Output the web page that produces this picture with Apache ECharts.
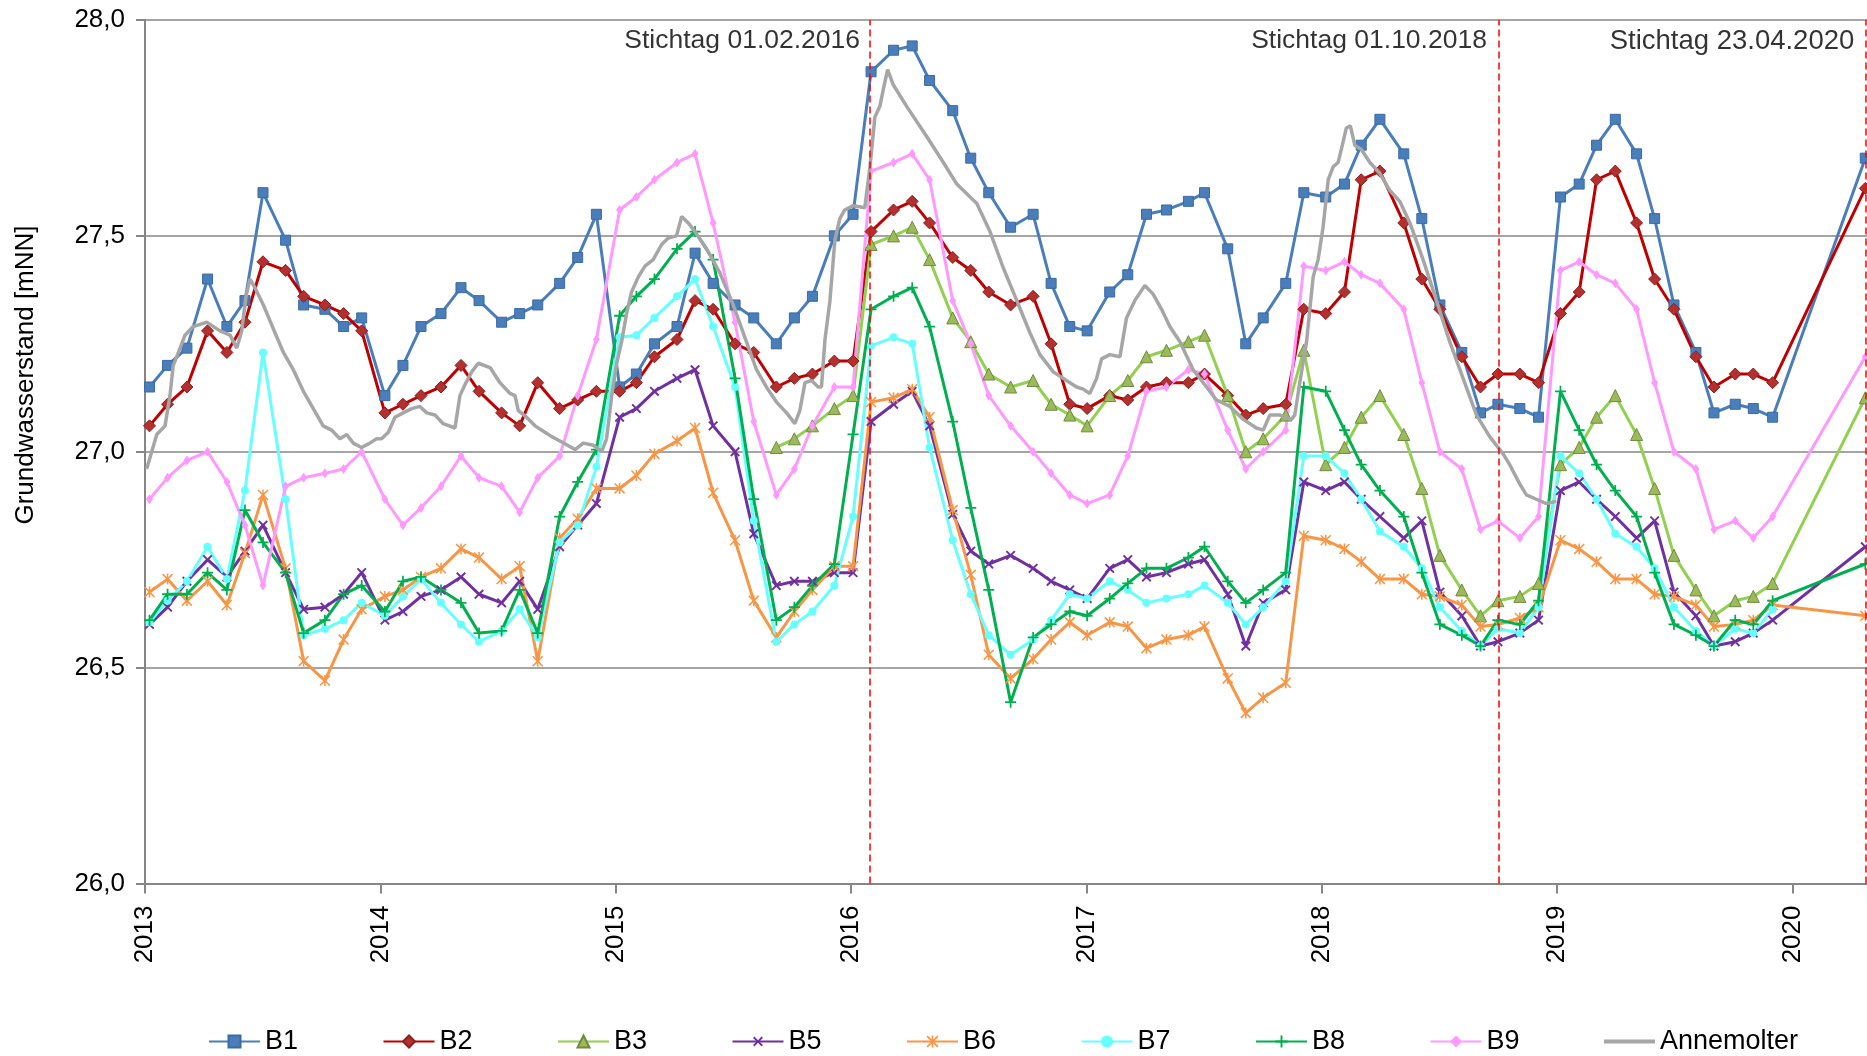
<!DOCTYPE html>
<html>
<head>
<meta charset="utf-8">
<script src="https://cdn.jsdelivr.net/npm/echarts@6/dist/echarts.min.js"></script>
<style>
  html, body { margin: 0; padding: 0; background: #fff; }
  #chart { width: 1867px; height: 1056px; }
</style>
</head>
<body>
<div id="chart"></div>
<script>
// Monthly measurement dates of the observation wells (last one: Stichtag 23.04.2020)
const sampleDates = [
  '2013-01-08','2013-02-05','2013-03-07','2013-04-08','2013-05-08','2013-06-05','2013-07-03','2013-08-07','2013-09-04','2013-10-07','2013-11-05','2013-12-03',
  '2014-01-08','2014-02-05','2014-03-05','2014-04-05','2014-05-06','2014-06-03','2014-07-08','2014-08-05','2014-09-02','2014-10-06','2014-11-03','2014-12-02',
  '2015-01-07','2015-02-02','2015-03-02','2015-04-06','2015-05-04','2015-06-01','2015-07-05','2015-08-03','2015-09-07','2015-10-05','2015-11-02','2015-12-06',
  '2016-01-04','2016-02-01','2016-03-07','2016-04-05','2016-05-02','2016-06-07','2016-07-05','2016-08-02','2016-09-05','2016-10-10','2016-11-07','2016-12-06',
  '2017-01-02','2017-02-06','2017-03-06','2017-04-04','2017-05-05','2017-06-08','2017-07-03','2017-08-08','2017-09-05','2017-10-02','2017-11-06','2017-12-04',
  '2018-01-07','2018-02-05','2018-03-03','2018-04-01','2018-05-08','2018-06-05','2018-07-03','2018-08-06','2018-09-04','2018-10-01','2018-11-04','2018-12-03',
  '2019-01-06','2019-02-04','2019-03-03','2019-04-01','2019-05-04','2019-06-01','2019-07-01','2019-08-04','2019-09-01','2019-10-04','2019-11-01','2019-12-01',
  '2020-04-23'
];

// Groundwater levels [mNN] per well, one value per sample date (null = no reading)
const b1 = [
  27.15,27.20,27.24,27.40,27.29,27.35,27.60,27.49,27.34,27.33,27.29,27.31,
  27.13,27.20,27.29,27.32,27.38,27.35,27.30,27.32,27.34,27.39,27.45,27.55,
  27.15,27.18,27.25,27.29,27.46,27.39,27.34,27.31,27.25,27.31,27.36,27.50,
  27.55,27.88,27.93,27.94,27.86,27.79,27.68,27.60,27.52,27.55,27.39,27.29,
  27.28,27.37,27.41,27.55,27.56,27.58,27.60,27.47,27.25,27.31,27.39,27.60,
  27.59,27.62,27.71,27.77,27.69,27.54,27.34,27.23,27.09,27.11,27.10,27.08,
  27.59,27.62,27.71,27.77,27.69,27.54,27.34,27.23,27.09,27.11,27.10,27.08,
  27.68
];
const b2 = [
  27.06,27.11,27.15,27.28,27.23,27.30,27.44,27.42,27.36,27.34,27.32,27.28,
  27.09,27.11,27.13,27.15,27.20,27.14,27.09,27.06,27.16,27.10,27.12,27.14,
  27.14,27.16,27.22,27.26,27.35,27.33,27.25,27.23,27.15,27.17,27.18,27.21,
  27.21,27.51,27.56,27.58,27.53,27.45,27.42,27.37,27.34,27.36,27.25,27.11,
  27.10,27.13,27.12,27.15,27.16,27.16,27.18,27.13,27.085,27.10,27.11,27.33,
  27.32,27.37,27.63,27.65,27.53,27.40,27.33,27.22,27.15,27.18,27.18,27.16,
  27.32,27.37,27.63,27.65,27.53,27.40,27.33,27.22,27.15,27.18,27.18,27.16,
  27.61
];
const b3 = [
  null,null,null,null,null,null,null,null,null,null,null,null,
  null,null,null,null,null,null,null,null,null,null,null,null,
  null,null,null,null,null,null,null,null,27.01,27.03,27.06,27.10,
  27.13,27.48,27.50,27.52,27.445,27.31,27.255,27.18,27.15,27.165,27.11,27.085,
  27.06,27.13,27.165,27.22,27.235,27.255,27.27,27.13,27.00,27.03,27.085,27.235,
  26.97,27.01,27.08,27.13,27.04,26.915,26.76,26.68,26.62,26.655,26.665,26.695,
  26.97,27.01,27.08,27.13,27.04,26.915,26.76,26.68,26.62,26.655,26.665,26.695,
  27.125
];
const b5 = [
  26.60,26.64,26.70,26.75,26.71,26.77,26.83,26.72,26.635,26.64,26.67,26.72,
  26.61,26.63,26.665,26.68,26.71,26.67,26.65,26.70,26.635,26.78,26.83,26.88,
  27.08,27.10,27.14,27.17,27.19,27.06,27.00,26.81,26.69,26.70,26.70,26.72,
  26.72,27.07,27.11,27.14,27.06,26.855,26.77,26.74,26.76,26.73,26.70,26.68,
  26.66,26.73,26.75,26.71,26.72,26.74,26.75,26.67,26.55,26.65,26.68,26.93,
  26.91,26.93,26.89,26.85,26.80,26.84,26.675,26.62,26.55,26.56,26.58,26.61,
  26.91,26.93,26.89,26.85,26.80,26.84,26.675,26.62,26.55,26.56,26.58,26.61,
  26.78
];
const b6 = [
  26.675,26.705,26.655,26.70,26.645,26.765,26.90,26.73,26.515,26.47,26.565,26.635,
  26.665,26.68,26.71,26.73,26.775,26.755,26.705,26.735,26.515,26.80,26.845,26.915,
  26.915,26.945,26.995,27.025,27.055,26.905,26.795,26.655,26.57,26.63,26.68,26.735,
  26.735,27.115,27.125,27.145,27.08,26.865,26.715,26.53,26.475,26.52,26.565,26.605,
  26.575,26.605,26.595,26.545,26.565,26.575,26.595,26.475,26.395,26.43,26.465,26.805,
  26.795,26.775,26.745,26.705,26.705,26.67,26.665,26.645,26.595,26.60,26.615,26.64,
  26.795,26.775,26.745,26.705,26.705,26.67,26.665,26.645,26.595,26.60,26.61,26.645,
  26.62
];
const b7 = [
  26.605,26.655,26.70,26.78,26.705,26.91,27.23,26.89,26.575,26.59,26.61,26.65,
  26.62,26.665,26.705,26.65,26.60,26.56,26.585,26.635,26.57,26.79,26.83,26.965,
  27.265,27.27,27.31,27.36,27.40,27.29,27.15,26.84,26.56,26.60,26.63,26.69,
  26.85,27.245,27.265,27.25,27.01,26.795,26.67,26.575,26.53,26.565,26.61,26.67,
  26.66,26.70,26.68,26.65,26.66,26.67,26.69,26.65,26.60,26.64,26.70,26.99,
  26.99,26.95,26.89,26.815,26.78,26.73,26.64,26.585,26.55,26.59,26.58,26.64,
  26.99,26.95,26.89,26.81,26.78,26.73,26.64,26.585,26.55,26.59,26.58,26.635,
  null
];
const b8 = [
  26.61,26.67,26.67,26.72,26.68,26.865,26.79,26.72,26.58,26.61,26.67,26.69,
  26.63,26.70,26.71,26.68,26.65,26.58,26.585,26.68,26.58,26.85,26.93,27.005,
  27.315,27.36,27.40,27.47,27.51,27.445,27.17,26.89,26.61,26.64,26.69,26.74,
  27.04,27.33,27.36,27.38,27.29,27.07,26.87,26.68,26.42,26.57,26.60,26.63,
  26.62,26.66,26.695,26.73,26.73,26.755,26.78,26.70,26.65,26.68,26.72,27.15,
  27.14,27.05,26.97,26.91,26.85,26.72,26.60,26.575,26.55,26.61,26.60,26.655,
  27.14,27.05,26.97,26.91,26.85,26.72,26.60,26.575,26.55,26.61,26.60,26.655,
  26.74
];
const b9 = [
  26.89,26.94,26.98,27.00,26.93,26.83,26.69,26.92,26.94,26.95,26.96,27.00,
  26.89,26.83,26.87,26.92,26.99,26.94,26.92,26.86,26.94,26.99,27.13,27.26,
  27.56,27.59,27.63,27.67,27.69,27.53,27.30,27.07,26.90,26.96,27.06,27.15,
  27.15,27.65,27.67,27.69,27.63,27.35,27.25,27.13,27.06,27.00,26.95,26.90,
  26.88,26.90,26.99,27.14,27.15,27.19,27.18,27.05,26.96,27.00,27.05,27.43,
  27.42,27.44,27.41,27.39,27.33,27.16,27.00,26.96,26.82,26.84,26.80,26.85,
  27.42,27.44,27.41,27.39,27.33,27.16,27.00,26.96,26.82,26.84,26.80,26.85,
  27.22
];

// Annemolter gauge (continuous record, decimal years)
const annemolterTime = [
  2013.007,2013.050,2013.085,2013.106,2013.120,2013.142,2013.170,2013.205,2013.262,2013.319,2013.361,2013.390,2013.411,2013.429,2013.446,2013.467,
  2013.503,2013.545,2013.588,2013.630,2013.673,2013.715,2013.757,2013.793,2013.828,2013.857,2013.885,2013.920,2013.955,2013.984,
  2014.005,2014.034,2014.062,2014.097,2014.133,2014.168,2014.197,2014.232,2014.267,2014.317,2014.338,2014.359,2014.388,2014.416,2014.466,
  2014.508,2014.551,2014.572,2014.586,2014.621,2014.657,2014.699,2014.728,2014.763,2014.827,2014.862,2014.905,2014.940,2014.961,2014.983,
  2015.004,2015.025,2015.046,2015.067,2015.096,2015.124,2015.159,2015.195,2015.223,2015.258,2015.280,2015.308,2015.336,2015.386,2015.442,
  2015.499,2015.555,2015.598,2015.640,2015.683,2015.726,2015.761,2015.782,2015.804,2015.832,2015.860,2015.874,2015.889,2015.910,2015.931,
  2015.952,2015.973,2016.009,2016.058,2016.080,2016.101,2016.122,2016.137,2016.155,2016.179,2016.236,2016.321,2016.392,2016.449,2016.534,
  2016.590,2016.647,2016.704,2016.760,2016.802,2016.859,2016.915,2016.958,2016.986,2017.014,2017.043,2017.064,2017.099,2017.142,2017.170,
  2017.205,2017.248,2017.283,2017.319,2017.354,2017.397,2017.453,2017.510,2017.552,2017.609,2017.666,2017.722,2017.751,2017.779,2017.822,
  2017.871,2017.885,2017.906,2017.935,2017.963,2017.984,2018.005,2018.027,2018.048,2018.069,2018.087,2018.104,2018.121,2018.140,2018.168,
  2018.204,2018.246,2018.289,2018.331,2018.374,2018.430,2018.487,2018.543,2018.600,2018.657,2018.713,2018.770,2018.798,2018.841,2018.869,
  2018.911,2018.954,2018.996
];
const annemolterLevel = [
  26.96,27.04,27.06,27.13,27.20,27.23,27.27,27.29,27.30,27.28,27.27,27.24,27.28,27.36,27.40,27.38,
  27.34,27.285,27.23,27.19,27.14,27.10,27.06,27.05,27.03,27.04,27.02,27.01,27.02,27.03,
  27.03,27.045,27.08,27.09,27.10,27.105,27.09,27.085,27.065,27.055,27.13,27.155,27.185,27.205,27.195,
  27.16,27.135,27.13,27.095,27.08,27.06,27.045,27.035,27.025,27.005,27.02,27.015,27.00,27.03,27.13,
  27.205,27.255,27.32,27.37,27.405,27.43,27.445,27.48,27.495,27.50,27.545,27.53,27.51,27.47,27.415,
  27.34,27.255,27.19,27.15,27.115,27.09,27.065,27.095,27.16,27.165,27.15,27.15,27.26,27.35,27.49,
  27.54,27.56,27.57,27.565,27.66,27.775,27.80,27.84,27.885,27.85,27.80,27.73,27.67,27.62,27.575,
  27.51,27.425,27.35,27.275,27.225,27.185,27.165,27.15,27.145,27.135,27.17,27.215,27.225,27.22,27.31,
  27.35,27.385,27.365,27.33,27.29,27.255,27.19,27.15,27.12,27.105,27.075,27.055,27.05,27.085,27.085,
  27.075,27.085,27.16,27.255,27.405,27.445,27.52,27.63,27.66,27.67,27.71,27.75,27.755,27.71,27.70,
  27.67,27.645,27.605,27.58,27.53,27.445,27.35,27.255,27.17,27.085,27.035,26.995,26.97,26.925,26.90,
  26.89,26.88,26.885
];

// Reference dates marked in the chart
const stichtagDates = ['2016-02-01', '2018-10-01', '2020-04-23'];
const stichtagLabels = ['Stichtag 01.02.2016', 'Stichtag 01.10.2018', 'Stichtag 23.04.2020'];

// Axis ticks
const yTicks = [26.0, 26.5, 27.0, 27.5, 28.0];
const yearTicks = [2013, 2014, 2015, 2016, 2017, 2018, 2019, 2020];

const FONT = '"Liberation Sans", Arial, sans-serif';

function toYear(str) {
  const [y, m, d] = str.split('-').map(Number);
  const start = Date.UTC(y, 0, 1), end = Date.UTC(y + 1, 0, 1);
  return y + (Date.UTC(y, m - 1, d) - start) / (end - start);
}

const sampleX = sampleDates.map(toYear);

function pairs(values) {
  const out = [];
  values.forEach((v, i) => { if (v != null) out.push([sampleX[i], v]); });
  return out;
}

const PLUS = 'path://M4.2,0H5.8V4.2H10V5.8H5.8V10H4.2V5.8H0V4.2H4.2Z';
const STAR = 'path://M4.3,0H5.7V10H4.3Z M0,1L1,0L10,9L9,10Z M9,0L10,1L1,10L0,9Z';

function well(name, values, lineColor, symbol, size, fill, border, rotate) {
  return {
    name, type: 'line', data: pairs(values),
    symbol, symbolSize: size, symbolRotate: rotate || 0, showSymbol: true,
    lineStyle: { color: lineColor, width: 3 },
    itemStyle: { color: fill, borderColor: border || fill, borderWidth: border ? 1 : 0 },
    emphasis: { disabled: true },
    animation: false, z: 3
  };
}

const series = [
  well('B1', b1, '#4a7ebb', 'rect', 10, '#4a7ebb', '#3a6aa3'),
  well('B2', b2, '#c00000', 'diamond', 12, '#b3302e', '#8b1f1f'),
  well('B3', b3, '#92d050', 'triangle', 12, '#9bbb59', '#71893f'),
  well('B5', b5, '#7030a0', PLUS, 12, '#7030a0', null, 45),
  well('B6', b6, '#f79646', STAR, 11, '#f79646'),
  well('B7', b7, '#66ffff', 'circle', 8, '#66ffff'),
  well('B8', b8, '#00b050', PLUS, 11, '#00b050'),
  well('B9', b9, '#ff99ff', 'diamond', [7, 10], '#ff99ff'),
  {
    name: 'Annemolter', type: 'line',
    data: annemolterTime.map((t, i) => [t, annemolterLevel[i]]),
    showSymbol: false, symbol: 'none',
    lineStyle: { color: '#a6a6a6', width: 3.5 },
    itemStyle: { color: '#a6a6a6' },
    emphasis: { disabled: true }, animation: false, z: 4
  },
  {
    name: 'stichtag', type: 'scatter', symbolSize: 0, silent: true, animation: false,
    data: stichtagDates.map((d, i) => ({
      value: [toYear(d), yTicks[yTicks.length - 1]],
      label: { fontSize: i === 2 ? 27.5 : 26.5 }
    })),
    label: {
      show: true, position: 'left', distance: 11, offset: [0, 21],
      formatter: p => stichtagLabels[p.dataIndex],
      color: '#000', fontFamily: FONT, fontSize: 26.5
    },
    markLine: {
      silent: true, symbol: 'none', animation: false,
      label: { show: false },
      lineStyle: { color: '#ff0000', width: 1.5, type: [7, 4] },
      data: stichtagDates.map(d => ({ xAxis: toYear(d) }))
    },
    z: 5
  }
];

// One legend block per well, evenly spaced along the bottom
const legendNames = ['B1', 'B2', 'B3', 'B5', 'B6', 'B7', 'B8', 'B9', 'Annemolter'];
const legends = legendNames.map((n, i) => ({
  data: [n === 'Annemolter' ? { name: n, icon: 'path://M0,0H51V4H0Z' } : { name: n }],
  left: 208 + i * 174.5, top: 1028,
  itemWidth: 51, itemHeight: 15, padding: 0,
  textStyle: { fontSize: 27, color: '#000', fontFamily: FONT },
  selectedMode: false
}));

const chart = echarts.init(document.getElementById('chart'), null, { renderer: 'canvas' });
chart.setOption({
  backgroundColor: '#ffffff',
  animation: false,
  textStyle: { fontFamily: FONT },
  grid: { left: 145, right: 0, top: 20, bottom: 172.5, containLabel: false },
  xAxis: {
    type: 'value', min: yearTicks[0], max: 2020.316, interval: 1,
    axisLine: { show: true, onZero: false, lineStyle: { color: '#868686', width: 2 } },
    axisTick: { show: true, length: 10, lineStyle: { color: '#868686', width: 2 } },
    axisLabel: {
      rotate: 90, margin: 22, fontSize: 26, color: '#000', fontFamily: FONT,
      showMaxLabel: false,
      formatter: v => (yearTicks.includes(Math.round(v)) && Math.abs(v - Math.round(v)) < 1e-6) ? String(Math.round(v)) : ''
    },
    splitLine: { show: false }
  },
  yAxis: {
    type: 'value', min: yTicks[0], max: yTicks[yTicks.length - 1], interval: 0.5,
    axisLine: { show: true, lineStyle: { color: '#868686', width: 2 } },
    axisTick: { show: true, length: 9, lineStyle: { color: '#868686', width: 2 } },
    axisLabel: {
      margin: 20, fontSize: 26, color: '#000', fontFamily: FONT,
      formatter: v => v.toFixed(1).replace('.', ',')
    },
    splitLine: { show: true, lineStyle: { color: '#868686', width: 1.5 } }
  },
  legend: legends,
  graphic: [{
    type: 'text', x: 26, y: 375, rotation: Math.PI / 2,
    style: {
      text: 'Grundwasserstand [mNN]', fontSize: 26, fontFamily: FONT, fill: '#000',
      align: 'center', verticalAlign: 'middle'
    }
  }],
  series
});
</script>
</body>
</html>
